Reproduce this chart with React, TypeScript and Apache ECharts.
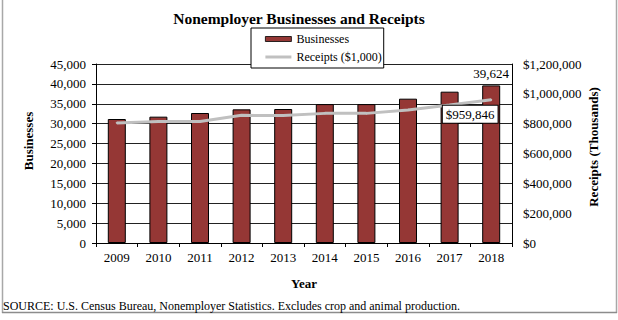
import React, { useEffect, useRef } from 'react';
import * as echarts from 'echarts';

const years = ['2009', '2010', '2011', '2012', '2013', '2014', '2015', '2016', '2017', '2018'];
const businesses = [31170, 31760, 32680, 33600, 33680, 34920, 34920, 36280, 38040, 39624];
const receipts = [805000, 815000, 814000, 856000, 854000, 869000, 869000, 892000, 925000, 959846];

const titleText = 'Nonemployer Businesses and Receipts';
const leftAxisName = 'Businesses';
const rightAxisName = 'Receipts (Thousands)';
const xAxisName = 'Year';
const seriesNames = ['Businesses', 'Receipts ($1,000)'];
const sourceText = 'SOURCE: U.S. Census Bureau, Nonemployer Statistics. Excludes crop and animal production.';

const FONT = 'Liberation Serif, serif';
const fmt = (v: number) => v.toLocaleString('en-US');

export default function App() {
  const ref = useRef<HTMLDivElement>(null);
  useEffect(() => {
    document.body.style.margin = '0';
    const chart = echarts.init(ref.current!, null, { renderer: 'svg' });
    const last = years.length - 1;
    chart.setOption({
      animation: false,
      backgroundColor: '#fff',
      textStyle: { fontFamily: FONT, color: '#000' },
      grid: { left: 96, right: 106, top: 64, bottom: 77, containLabel: false },
      legend: {
        orient: 'vertical',
        left: 251,
        top: 28,
        padding: [5, 2, 5, 14],
        itemGap: 6,
        itemWidth: 26,
        itemHeight: 5,
        backgroundColor: '#fff',
        borderColor: '#000',
        borderWidth: 1,
        textStyle: { fontFamily: FONT, fontSize: 12, color: '#000' },
        data: [
          { name: seriesNames[0], icon: 'rect', itemStyle: { color: '#953735', borderColor: '#000', borderWidth: 0.8 } },
          { name: seriesNames[1], icon: 'path://M0,0H26V3H0Z', itemStyle: { color: '#c0c0c0', borderWidth: 0 } },
        ],
        z: 10,
      },
      xAxis: {
        type: 'category',
        data: years,
        axisLine: { lineStyle: { color: '#000', width: 1 } },
        axisTick: { show: true, length: 4, lineStyle: { color: '#000' } },
        axisLabel: { fontFamily: FONT, fontSize: 13, color: '#000', margin: 8 },
      },
      yAxis: [
        {
          type: 'value',
          min: 0,
          max: 45000,
          interval: 5000,
          axisLine: { show: true, lineStyle: { color: '#000' } },
          axisTick: { show: true, length: 4, lineStyle: { color: '#000' } },
          axisLabel: { fontFamily: FONT, fontSize: 13, color: '#000', margin: 10, formatter: (v: number) => fmt(v) },
          splitLine: { show: true, lineStyle: { color: '#222', width: 1 } },
        },
        {
          type: 'value',
          min: 0,
          max: 1200000,
          interval: 200000,
          position: 'right',
          axisLine: { show: true, lineStyle: { color: '#000' } },
          axisTick: { show: false },
          axisLabel: { fontFamily: FONT, fontSize: 13, color: '#000', margin: 11, formatter: (v: number) => '$' + fmt(v) },
          splitLine: { show: false },
        },
      ],
      series: [
        {
          name: seriesNames[0],
          type: 'bar',
          yAxisIndex: 0,
          barWidth: 18,
          itemStyle: { color: '#953735', borderColor: '#000', borderWidth: 1 },
          data: businesses.map((v, i) =>
            i === last
              ? { value: v, label: { show: true, position: 'top', distance: 5, fontFamily: FONT, fontSize: 13, color: '#000', formatter: () => fmt(v) } }
              : v
          ),
        },
        {
          name: seriesNames[1],
          type: 'line',
          yAxisIndex: 1,
          symbol: 'circle',
          symbolSize: 2,
          showSymbol: true,
          lineStyle: { color: '#c0c0c0', width: 3 },
          itemStyle: { color: '#c0c0c0' },
          z: 5,
          labelLayout: { hideOverlap: false, dx: -21 },
          data: receipts.map((v, i) =>
            i === last
              ? {
                  value: v,
                  label: {
                    show: true,
                    position: 'bottom',
                    distance: 5,
                    fontFamily: FONT,
                    fontSize: 13,
                    color: '#000',
                    backgroundColor: '#fff',
                    borderColor: '#000',
                    borderWidth: 1,
                    padding: [2, 3],
                    formatter: () => '$' + fmt(v),
                  },
                }
              : v
          ),
        },
      ],
      graphic: [
        { type: 'text', x: 299, y: 18, style: { text: titleText, font: `bold 15.5px ${FONT}`, fill: '#000', align: 'center', verticalAlign: 'middle' } },
        { type: 'text', x: 28, y: 141, rotation: Math.PI / 2, style: { text: leftAxisName, font: `bold 13px ${FONT}`, fill: '#000', align: 'center', verticalAlign: 'middle' } },
        { type: 'text', x: 593, y: 147, rotation: Math.PI / 2, style: { text: rightAxisName, font: `bold 13px ${FONT}`, fill: '#000', align: 'center', verticalAlign: 'middle' } },
        { type: 'text', x: 304, y: 283, style: { text: xAxisName, font: `bold 13px ${FONT}`, fill: '#000', align: 'center', verticalAlign: 'middle' } },
        { type: 'line', shape: { x1: 2.5, y1: 0, x2: 2.5, y2: 313 }, style: { stroke: '#a8a8a8', lineWidth: 1.5 } },
        { type: 'line', shape: { x1: 616.5, y1: 0, x2: 616.5, y2: 313 }, style: { stroke: '#a8a8a8', lineWidth: 1.5 } },
        { type: 'line', shape: { x1: 2, y1: 312.5, x2: 617, y2: 312.5 }, style: { stroke: '#8c8c8c', lineWidth: 1.5 } },
        { type: 'text', x: 3, y: 306, style: { text: sourceText, font: `12px ${FONT}`, fill: '#000', align: 'left', verticalAlign: 'middle' } },
      ],
    });
    return () => chart.dispose();
  }, []);
  return <div ref={ref} style={{ width: 618, height: 320 }} />;
}
